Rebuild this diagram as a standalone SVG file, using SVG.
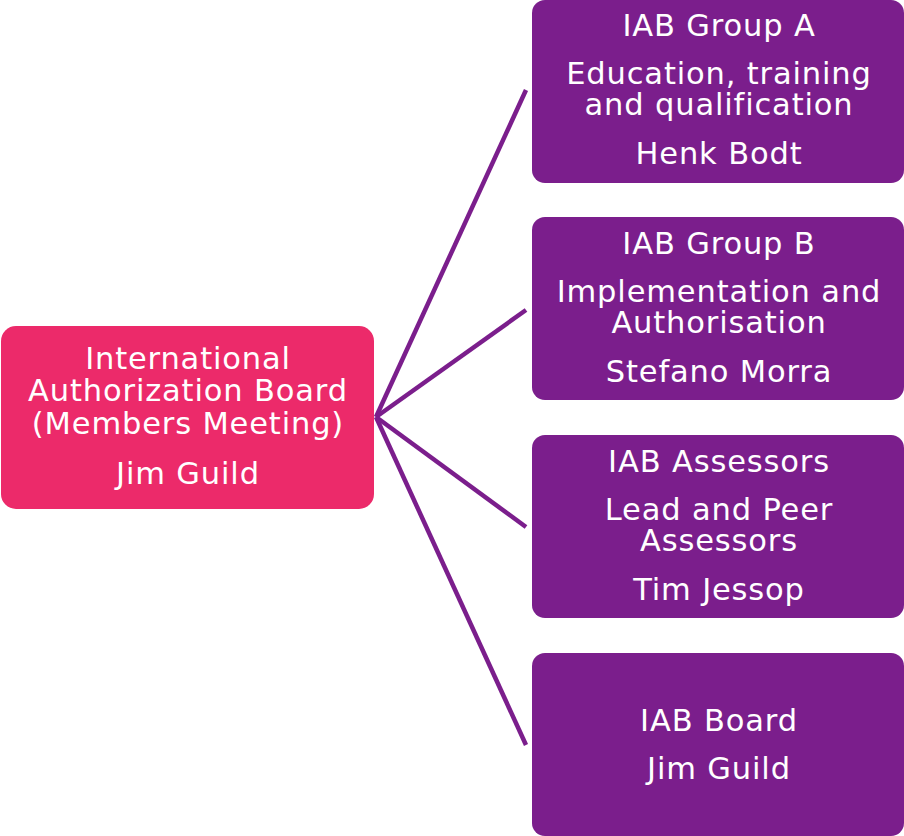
<svg xmlns="http://www.w3.org/2000/svg" width="904" height="836" viewBox="0 0 904 836">
<style>
.t{font-family:"DejaVu Sans","Verdana",sans-serif;font-size:30.5px;letter-spacing:0.85px;fill:#ffffff;text-anchor:middle}
.p{fill:#7B1E8C}
.k{fill:#EC2A6A}
.c{stroke:#7B1E8C;stroke-width:4.5;fill:none}
</style>
<rect width="904" height="836" fill="#ffffff"/>
<g id="connectors">
<line class="c" x1="376" y1="417" x2="526" y2="90"/>
<line class="c" x1="376" y1="417" x2="526" y2="310"/>
<line class="c" x1="376" y1="417" x2="526" y2="527"/>
<line class="c" x1="376" y1="417" x2="526" y2="745"/>
</g>
<g id="iab-members">
<rect class="k" x="1" y="326" width="373" height="183" rx="15"/>
<text class="t" x="188" y="369">International</text>
<text class="t" x="188" y="401">Authorization Board</text>
<text class="t" x="188" y="434">(Members Meeting)</text>
<text class="t" x="188" y="484">Jim Guild</text>
</g>
<g id="group-a">
<rect class="p" x="532" y="0" width="372" height="183" rx="13"/>
<text class="t" x="719" y="36">IAB Group A</text>
<text class="t" x="719" y="84">Education, training</text>
<text class="t" x="719" y="115">and qualification</text>
<text class="t" x="719" y="164">Henk Bodt</text>
</g>
<g id="group-b">
<rect class="p" x="532" y="217" width="372" height="183" rx="13"/>
<text class="t" x="719" y="254">IAB Group B</text>
<text class="t" x="719" y="302">Implementation and</text>
<text class="t" x="719" y="333">Authorisation</text>
<text class="t" x="719" y="382">Stefano Morra</text>
</g>
<g id="assessors">
<rect class="p" x="532" y="435" width="372" height="183" rx="13"/>
<text class="t" x="719" y="472">IAB Assessors</text>
<text class="t" x="719" y="520">Lead and Peer</text>
<text class="t" x="719" y="551">Assessors</text>
<text class="t" x="719" y="600">Tim Jessop</text>
</g>
<g id="board">
<rect class="p" x="532" y="653" width="372" height="183" rx="13"/>
<text class="t" x="719" y="731">IAB Board</text>
<text class="t" x="719" y="779">Jim Guild</text>
</g>
</svg>
